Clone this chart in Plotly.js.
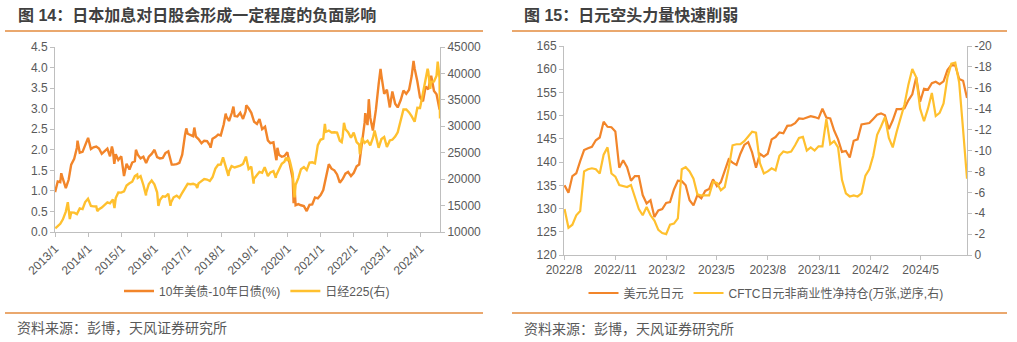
<!DOCTYPE html>
<html>
<head>
<meta charset="utf-8">
<script src="https://cdn.plot.ly/plotly-3.0.1.min.js"></script>
<style>html,body{margin:0;padding:0;background:#fff;}#chart{width:1017px;height:342px;}</style>
</head>
<body>
<div id="chart"></div>
<script>
// ---------- Left panel data ----------
const spreadDates = ["2013-01-02","2013-01-31","2013-02-28","2013-03-11","2013-03-29","2013-04-30","2013-05-31","2013-06-28","2013-07-31","2013-08-30","2013-09-06","2013-09-30","2013-10-31","2013-11-29","2013-12-31",
"2014-01-31","2014-02-28","2014-03-31","2014-04-30","2014-05-30","2014-06-30","2014-07-31","2014-08-29","2014-09-19","2014-09-30","2014-10-15","2014-10-31","2014-11-28","2014-12-31",
"2015-01-30","2015-02-27","2015-03-31","2015-04-30","2015-05-29","2015-06-10","2015-06-30","2015-07-31","2015-08-31","2015-09-30","2015-10-30","2015-11-30","2015-12-31",
"2016-01-29","2016-02-29","2016-03-31","2016-04-29","2016-05-31","2016-06-30","2016-07-08","2016-07-29","2016-08-31","2016-09-30","2016-10-31","2016-11-30","2016-12-15","2016-12-30",
"2017-01-31","2017-02-28","2017-03-13","2017-03-31","2017-04-28","2017-05-31","2017-06-30","2017-07-31","2017-08-31","2017-09-08","2017-09-29","2017-10-31","2017-11-30","2017-12-29",
"2018-01-31","2018-02-21","2018-02-28","2018-03-30","2018-04-30","2018-05-17","2018-05-31","2018-06-29","2018-07-31","2018-08-31","2018-09-28","2018-10-05","2018-10-31","2018-11-30","2018-12-31",
"2019-01-31","2019-02-28","2019-03-29","2019-04-30","2019-05-31","2019-06-28","2019-07-31","2019-08-30","2019-09-03","2019-09-13","2019-09-30","2019-10-31","2019-11-29","2019-12-31",
"2020-01-31","2020-02-28","2020-03-09","2020-03-18","2020-03-31","2020-04-30","2020-05-29","2020-06-30","2020-07-31","2020-08-31","2020-09-30","2020-10-30","2020-11-30","2020-12-31",
"2021-01-29","2021-02-26","2021-03-31","2021-04-30","2021-05-31","2021-06-30","2021-07-30","2021-08-31","2021-09-30","2021-10-29","2021-11-30","2021-12-31",
"2022-01-31","2022-02-28","2022-03-31","2022-04-29","2022-05-06","2022-05-31","2022-06-14","2022-06-30","2022-07-29","2022-08-31","2022-09-30","2022-10-21","2022-10-31","2022-11-30","2022-12-30",
"2023-01-31","2023-02-28","2023-03-31","2023-04-28","2023-05-31","2023-06-30","2023-07-31","2023-08-31","2023-09-29","2023-10-19","2023-10-31","2023-11-30","2023-12-29",
"2024-01-31","2024-02-29","2024-03-29","2024-04-25","2024-04-30","2024-05-31","2024-06-28","2024-07-31","2024-08-05"];
const spreadValues = [0.97,1.23,1.21,1.43,1.29,1.07,1.27,1.64,1.78,2.05,2.22,1.93,1.95,2.13,2.29,
2.02,2.06,2.08,2.03,1.90,1.97,2.03,1.84,2.08,1.98,1.66,1.89,1.75,1.84,
1.36,1.66,1.52,1.69,1.72,2.00,1.88,1.79,1.83,1.68,1.83,1.90,2.00,
1.82,1.79,1.80,1.92,1.96,1.69,1.64,1.64,1.65,1.68,1.88,2.35,2.52,2.39,
2.36,2.33,2.54,2.32,2.26,2.16,2.22,2.21,2.11,2.05,2.27,2.31,2.37,2.35,
2.62,2.88,2.81,2.70,2.90,3.05,2.82,2.81,2.90,2.75,2.93,3.08,3.01,2.90,2.68,
2.63,2.75,2.50,2.56,2.23,2.16,2.18,1.77,1.75,2.05,1.88,1.83,1.85,1.94,
1.57,1.30,0.70,1.17,0.65,0.68,0.65,0.63,0.51,0.66,0.67,0.84,0.82,0.90,
1.02,1.29,1.65,1.54,1.50,1.40,1.20,1.29,1.42,1.46,1.36,1.44,
1.60,1.64,2.12,2.66,2.89,2.60,3.23,2.78,2.47,2.97,3.59,3.97,3.80,3.36,3.46,
3.03,3.42,3.12,3.03,3.21,3.44,3.36,3.46,3.80,4.16,3.98,3.66,3.27,
3.18,3.54,3.47,3.80,3.80,3.43,3.35,2.98,3.02];

const nikkeiDates = ["2013-01-04","2013-01-31","2013-02-28","2013-03-29","2013-04-30","2013-05-22","2013-05-31","2013-06-13","2013-06-28","2013-07-31","2013-08-30","2013-09-30","2013-10-31","2013-11-29","2013-12-30",
"2014-01-31","2014-02-28","2014-03-31","2014-04-11","2014-04-30","2014-05-30","2014-06-30","2014-07-31","2014-08-29","2014-09-30","2014-10-17","2014-10-31","2014-11-28","2014-12-30",
"2015-01-30","2015-02-27","2015-03-31","2015-04-30","2015-05-29","2015-06-24","2015-06-30","2015-07-31","2015-08-31","2015-09-29","2015-09-30","2015-10-30","2015-11-30","2015-12-30",
"2016-01-29","2016-02-12","2016-02-29","2016-03-31","2016-04-28","2016-05-31","2016-06-24","2016-06-30","2016-07-29","2016-08-31","2016-09-30","2016-10-31","2016-11-30","2016-12-30",
"2017-01-31","2017-02-28","2017-03-31","2017-04-14","2017-04-28","2017-05-31","2017-06-30","2017-07-31","2017-08-31","2017-09-29","2017-10-31","2017-11-30","2017-12-29",
"2018-01-23","2018-02-28","2018-03-23","2018-03-30","2018-04-27","2018-05-31","2018-06-29","2018-07-31","2018-08-31","2018-10-02","2018-10-31","2018-11-30","2018-12-25","2018-12-28",
"2019-01-31","2019-02-28","2019-03-29","2019-04-26","2019-05-31","2019-06-28","2019-07-31","2019-08-26","2019-08-30","2019-09-30","2019-10-31","2019-11-29","2019-12-17","2019-12-30",
"2020-01-17","2020-01-31","2020-02-28","2020-03-19","2020-03-31","2020-04-30","2020-05-29","2020-06-30","2020-07-31","2020-08-31","2020-09-30","2020-10-30","2020-11-30","2020-12-30",
"2021-01-29","2021-02-16","2021-02-26","2021-03-31","2021-04-30","2021-05-31","2021-06-30","2021-07-30","2021-08-20","2021-08-31","2021-09-14","2021-09-30","2021-10-29","2021-11-30","2021-12-30",
"2022-01-31","2022-02-28","2022-03-08","2022-03-31","2022-04-28","2022-05-31","2022-06-30","2022-07-29","2022-08-17","2022-08-31","2022-09-30","2022-10-31","2022-11-30","2022-12-30",
"2023-01-31","2023-02-28","2023-03-31","2023-04-28","2023-05-31","2023-06-30","2023-07-31","2023-08-31","2023-09-29","2023-10-31","2023-11-30","2023-12-29",
"2024-01-31","2024-02-29","2024-03-22","2024-03-29","2024-04-19","2024-04-30","2024-05-31","2024-06-28","2024-07-11","2024-07-31","2024-08-02","2024-08-05"];
const nikkeiValues = [10688,11139,11559,12398,13861,15627,13775,12445,13677,13668,13389,14456,14328,15662,16291,
14915,14841,14828,13960,14304,14632,15162,15621,15425,16174,14532,16414,17460,17451,
17674,18798,19207,19520,20563,20868,20236,20585,18890,16930,17388,19083,19747,19034,
17518,14953,16027,16759,16666,17235,14952,15576,16569,16887,16450,17425,18308,19114,
19041,19119,18909,18336,19197,19651,20033,19925,19646,20356,22012,22725,22765,
24124,22068,20617,21454,22468,22202,22305,22554,22865,24270,21920,22351,19155,20015,
20773,21385,21206,22259,20601,21276,21522,20261,20704,21756,22927,23294,24066,23657,
24041,23205,21143,16552,18917,20194,21878,22288,21710,23140,23185,22977,26434,27444,
27663,30468,28966,29179,28813,28860,28792,27284,27013,28090,30670,29453,28893,27822,28792,
27002,26527,24718,27821,26848,27280,26393,27802,29222,28092,25937,27587,27969,26095,
27327,27446,28041,28856,30888,33189,33172,32619,31858,30859,33487,33464,
36287,39166,40888,40369,37068,38406,38488,39583,42224,39102,35910,31458];

const leftTickVals = ["2013-01-01","2014-01-01","2015-01-01","2016-01-01","2017-01-01","2018-01-01","2019-01-01","2020-01-01","2021-01-01","2022-01-01","2023-01-01","2024-01-01"];
const leftTickText = ["2013/1","2014/1","2015/1","2016/1","2017/1","2018/1","2019/1","2020/1","2021/1","2022/1","2023/1","2024/1"];

// ---------- Right panel data (weekly) ----------
const weeklyStart = "2022-08-02";
const usdjpyValues = [135.0,133.4,137.0,137.6,140.2,142.6,143.0,143.3,144.7,145.3,148.7,147.6,147.5,146.6,138.8,140.4,138.9,136.0,137.0,137.0,132.9,131.1,
131.8,128.2,129.6,129.9,131.2,131.4,134.1,136.0,135.9,135.0,131.8,130.7,132.9,132.2,133.8,134.2,136.3,134.8,135.7,138.0,140.6,139.9,139.4,141.8,143.7,144.3,142.1,138.8,141.8,141.2,
141.8,144.9,145.4,146.4,146.2,147.8,147.9,148.4,149.4,149.3,149.6,149.9,149.7,149.4,151.5,149.6,149.4,146.8,144.9,142.2,142.4,141.0,
144.6,144.9,148.1,148.2,148.4,149.3,150.2,150.5,150.1,147.1,149.0,151.4,151.4,151.6,153.3,154.6,158.3,153.0,155.8,155.6,157.0,157.3,156.8,157.4,159.8,160.9,160.8,157.9,157.5,153.8];
const cftcValues = [-4.4,-2.6,-2.9,-3.8,-4.2,-8.0,-8.2,-8.3,-8.2,-7.8,-9.6,-10.3,-7.8,-7.5,-6.7,-6.6,-6.5,-6.7,-5.6,-4.4,-3.8,-4.6,-3.8,-3.3,-2.4,-2.1,-2.0,-2.9,-3.0,-3.5,
-8.2,-8.4,-8.0,-7.3,-5.8,-5.7,-5.7,-5.7,-7.0,-6.9,-6.2,-6.5,-8.3,-10.5,-10.6,-10.6,-10.9,-11.4,-11.8,-11.7,-8.8,-7.8,-8.0,-8.3,-8.1,-9.5,-9.9,-9.8,-9.9,-10.5,
-11.2,-11.3,-10.0,-10.3,-10.0,-10.4,-10.4,-13.0,-10.6,-10.9,-10.3,-7.2,-5.9,-5.6,-5.7,-5.6,-5.9,-7.6,-8.2,-9.5,-11.5,-12.3,-13.2,-11.2,-10.3,-11.8,-13.2,-14.4,-16.3,-17.8,
-17.0,-14.0,-12.8,-14.0,-15.5,-13.3,-13.6,-14.5,-17.0,-18.3,-18.4,-16.5,-12.0,-7.3];
const rightTickVals = ["2022-08-01","2022-11-01","2023-02-01","2023-05-01","2023-08-01","2023-11-01","2024-02-01","2024-05-01"];
const rightTickText = ["2022/8","2022/11","2023/2","2023/5","2023/8","2023/11","2024/2","2024/5"];
const cftcTickVals = [0,-2,-4,-6,-8,-10,-12,-14,-16,-18,-20];
const cftcTickText = ["0","-2","-4","-6","-8","-10","-12","-14","-16","-18","-20"];

// build weekly dates (every 7 days from start)
const weeklyDates = [];
{
  const d0 = new Date(weeklyStart + "T00:00:00Z");
  for (let i = 0; i < usdjpyValues.length; i++) {
    const d = new Date(d0.getTime() + i * 7 * 86400000);
    weeklyDates.push(d.toISOString().slice(0, 10));
  }
}

const ORANGE = "#F2852A";
const YELLOW = "#FFC02E";
const AXIS = "#BFBFBF";
const TXT = "#595959";
const FONT = "'Liberation Sans', Arial, 'Noto Sans CJK SC', sans-serif";

const traces = [
  {x: spreadDates, y: spreadValues, xaxis: "x", yaxis: "y", type: "scatter", mode: "lines",
   name: "10年美债-10年日债(%)", line: {color: ORANGE, width: 2.4}, legend: "legend"},
  {x: nikkeiDates, y: nikkeiValues, xaxis: "x", yaxis: "y2", type: "scatter", mode: "lines",
   name: "日经225(右)", line: {color: YELLOW, width: 2.4}, legend: "legend"},
  {x: weeklyDates, y: usdjpyValues, xaxis: "x3", yaxis: "y3", type: "scatter", mode: "lines",
   name: "美元兑日元", line: {color: ORANGE, width: 2.2}, legend: "legend2"},
  {x: weeklyDates, y: cftcValues, xaxis: "x3", yaxis: "y4", type: "scatter", mode: "lines",
   name: "CFTC日元非商业性净持仓(万张,逆序,右)", line: {color: YELLOW, width: 2.2}, legend: "legend2"}
];

const axisBase = {
  showline: true, linecolor: AXIS, linewidth: 1, ticks: "outside", ticklen: 4, tickcolor: AXIS,
  showgrid: false, zeroline: false, tickfont: {size: 12, color: TXT, family: FONT}, fixedrange: true
};

const W = 1017, H = 342;
const px = v => v / W;
const py = v => (H - v) / H;

const layout = {
  width: W, height: H, autosize: false,
  margin: {l: 0, r: 0, t: 0, b: 0},
  paper_bgcolor: "#fff", plot_bgcolor: "#fff",
  font: {family: FONT, color: TXT, size: 12},
  xaxis: Object.assign({}, axisBase, {domain: [px(55), px(440)], anchor: "y", type: "date",
    range: ["2013-01-01", "2024-08-05"], tickmode: "array", tickvals: leftTickVals, ticktext: leftTickText, tickangle: -45}),
  yaxis: Object.assign({}, axisBase, {domain: [py(232), py(47)], anchor: "x", range: [0, 4.5], dtick: 0.5, tickformat: ".1f"}),
  yaxis2: Object.assign({}, axisBase, {overlaying: "y", side: "right", anchor: "x", range: [10000, 45000], dtick: 5000, tickformat: "d"}),
  xaxis3: Object.assign({}, axisBase, {domain: [px(564), px(967)], anchor: "y3", type: "date",
    range: ["2022-08-01", "2024-07-23"], tickmode: "array", tickvals: rightTickVals, ticktext: rightTickText, tickangle: 0}),
  yaxis3: Object.assign({}, axisBase, {domain: [py(255), py(46)], anchor: "x3", range: [120, 165], dtick: 5}),
  yaxis4: Object.assign({}, axisBase, {overlaying: "y3", side: "right", anchor: "x3", range: [0, -20],
    tickmode: "array", tickvals: cftcTickVals, ticktext: cftcTickText}),
  showlegend: true,
  legend: {orientation: "h", x: px(257), xanchor: "center", y: py(291), yanchor: "middle",
    font: {size: 12, color: TXT, family: FONT}, bgcolor: "rgba(0,0,0,0)", itemwidth: 30, traceorder: "normal"},
  legend2: {orientation: "h", x: px(766), xanchor: "center", y: py(293), yanchor: "middle",
    font: {size: 12, color: TXT, family: FONT}, bgcolor: "rgba(0,0,0,0)", itemwidth: 30, traceorder: "normal"},
  shapes: [
    {type: "line", xref: "paper", yref: "paper", x0: px(5), x1: px(483), y0: py(31), y1: py(31), line: {color: "#E38B3E", width: 1.5}},
    {type: "line", xref: "paper", yref: "paper", x0: px(512), x1: px(1007), y0: py(31), y1: py(31), line: {color: "#E38B3E", width: 1.5}},
    {type: "line", xref: "paper", yref: "paper", x0: px(5), x1: px(483), y0: py(313), y1: py(313), line: {color: "#E38B3E", width: 1.5}},
    {type: "line", xref: "paper", yref: "paper", x0: px(512), x1: px(1007), y0: py(313), y1: py(313), line: {color: "#E38B3E", width: 1.5}}
  ],
  annotations: [
    {text: "<b>图 14：日本加息对日股会形成一定程度的负面影响</b>", xref: "paper", yref: "paper", x: px(16), y: py(15),
     xanchor: "left", yanchor: "middle", showarrow: false, font: {size: 16, color: "#404040", family: FONT}},
    {text: "<b>图 15：日元空头力量快速削弱</b>", xref: "paper", yref: "paper", x: px(522), y: py(15),
     xanchor: "left", yanchor: "middle", showarrow: false, font: {size: 16, color: "#404040", family: FONT}},
    {text: "资料来源：彭博，天风证券研究所", xref: "paper", yref: "paper", x: px(15), y: py(328),
     xanchor: "left", yanchor: "middle", showarrow: false, font: {size: 14, color: TXT, family: FONT}},
    {text: "资料来源：彭博，天风证券研究所", xref: "paper", yref: "paper", x: px(522), y: py(329),
     xanchor: "left", yanchor: "middle", showarrow: false, font: {size: 14, color: TXT, family: FONT}}
  ]
};

Plotly.newPlot("chart", traces, layout, {displayModeBar: false, staticPlot: true});
</script>
</body>
</html>
